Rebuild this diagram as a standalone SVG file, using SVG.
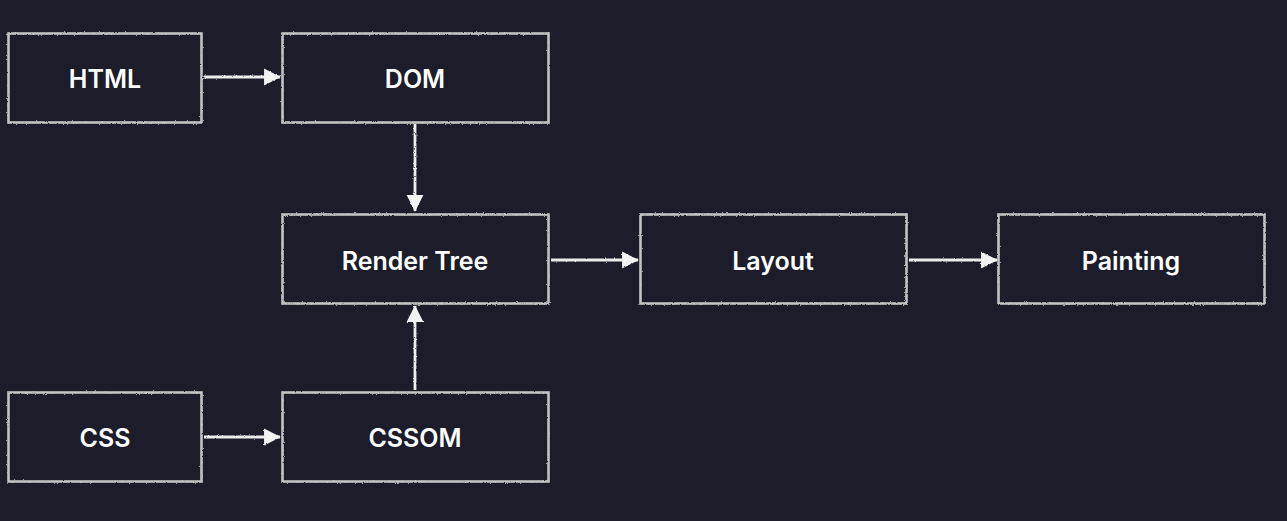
<svg xmlns="http://www.w3.org/2000/svg" width="1287" height="521" viewBox="0 0 1287 521">
  <defs>
    <style>
      .box { fill: #1c1c2a; stroke: #c4c4c4; stroke-width: 2.6; filter: url(#rough); }
      .lbl { fill: #ffffff; font-family: "Inter", "Liberation Sans", Arial, sans-serif; font-weight: 600; font-size: 25px; text-anchor: middle; }
      .edge { stroke: #ededed; stroke-width: 2.8; fill: none; marker-end: url(#arrow); filter: url(#rough); }
    </style>
    <filter id="rough" filterUnits="userSpaceOnUse" x="0" y="0" width="1287" height="521">
      <feTurbulence type="fractalNoise" baseFrequency="1.1" numOctaves="2" seed="3" result="n"/>
      <feDisplacementMap in="SourceGraphic" in2="n" scale="2.2" xChannelSelector="R" yChannelSelector="G"/>
    </filter>
    <marker id="arrow" viewBox="0 0 10 10" refX="9.5" refY="5" markerWidth="6" markerHeight="6.6" markerUnits="strokeWidth" orient="auto">
      <path d="M0,0 L10,5 L0,10 Z" fill="#f2f2f2"/>
    </marker>
  </defs>
  <rect width="1287" height="521" fill="#1c1c2a"/>

  <g id="connectors">
    <path class="edge" d="M204,77 L280,77"/>
    <path class="edge" d="M415,124 L415,211"/>
    <path class="edge" d="M415,390 L415,306"/>
    <path class="edge" d="M551,260 L638,260"/>
    <path class="edge" d="M909,260 L997,260"/>
    <path class="edge" d="M204,437 L280,437"/>
  </g>

  <g id="html">
    <rect class="box" x="8.5" y="33.5" width="193" height="89"/>
    <text class="lbl" x="105" y="88">HTML</text>
  </g>
  <g id="dom">
    <rect class="box" x="282.5" y="33.5" width="266" height="89"/>
    <text class="lbl" x="415" y="88">DOM</text>
  </g>
  <g id="render-tree">
    <rect class="box" x="282.5" y="214.5" width="266" height="89"/>
    <text class="lbl" x="415" y="270">Render Tree</text>
  </g>
  <g id="layout">
    <rect class="box" x="640.5" y="214.5" width="266" height="89"/>
    <text class="lbl" x="773" y="270">Layout</text>
  </g>
  <g id="painting">
    <rect class="box" x="998.5" y="214.5" width="266" height="89"/>
    <text class="lbl" x="1131" y="270">Painting</text>
  </g>
  <g id="css">
    <rect class="box" x="8.5" y="392.5" width="193" height="89"/>
    <text class="lbl" x="105" y="447">CSS</text>
  </g>
  <g id="cssom">
    <rect class="box" x="282.5" y="392.5" width="266" height="89"/>
    <text class="lbl" x="415" y="447">CSSOM</text>
  </g>
</svg>
